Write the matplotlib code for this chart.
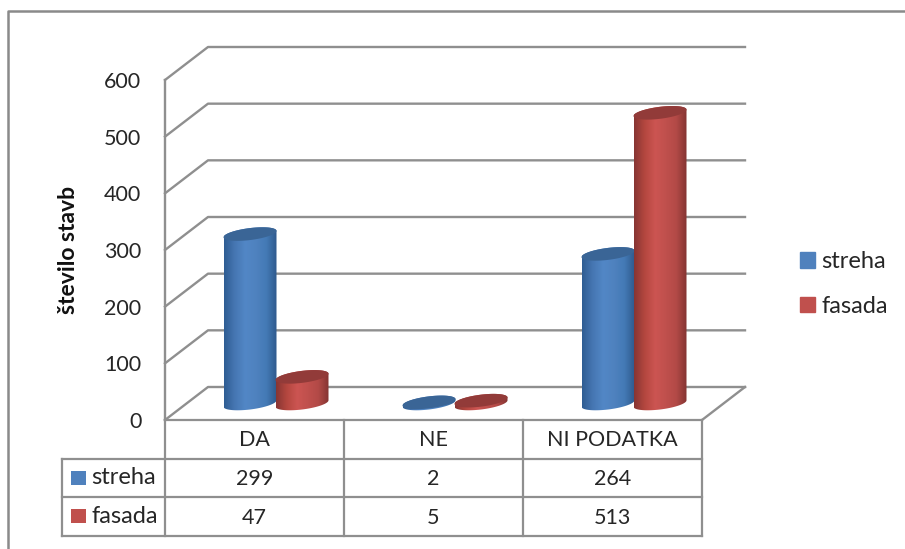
import numpy as np
import matplotlib
matplotlib.use('Agg')
import matplotlib.pyplot as plt
from matplotlib.colors import LinearSegmentedColormap
from matplotlib.patches import Patch, Polygon

# Data
categories = ['DA', 'NE', 'NI PODATKA']
streha = [299, 2, 264]
fasada = [47, 5, 513]
y_ticks = [0, 100, 200, 300, 400, 500, 600]

plt.rcParams['font.family'] = ['Lato', 'DejaVu Sans']

W, H = 905, 549
text_color = '#262626'
grid_color = '#8f8f8f'
font_size = 15.5
name_size = 17

# front plane of the fake 3D box, in pixels
left_px, right_px, zero_px, top_px = 165, 702, 420, 80
depth_x, depth_y = 43, 33

fig = plt.figure(figsize=(W / 100, H / 100), dpi=100)
ax = fig.add_axes([left_px / W, 1 - zero_px / H, (right_px - left_px) / W, (zero_px - top_px) / H])
ax.patch.set_visible(False)
for side in ax.spines.values():
    side.set_visible(False)

px_per_cat = (right_px - left_px) / len(categories)
px_per_val = (zero_px - top_px) / y_ticks[-1]


def dx(px):
    return px / px_per_cat


def dy(px):
    return px / px_per_val


def line(x, y, lw=2.0, color=grid_color, z=1):
    ax.plot(x, y, color=color, lw=lw, clip_on=False, zorder=z, solid_capstyle='projecting')


# walls and floor
for v in y_ticks:
    line([0, dx(depth_x), 3 + dx(depth_x)], [v, v + dy(depth_y), v + dy(depth_y)], lw=1.7)
line([0, 0], [0, y_ticks[-1]], lw=1.7)
line([3, 3 + dx(depth_x)], [0, dy(depth_y)], lw=1.7)

# cylinders
blue_map = LinearSegmentedColormap.from_list('b', ['#2f5d93', '#4676b2', '#5287c6', '#4f82bf', '#447ab6', '#2f5a8d'])
red_map = LinearSegmentedColormap.from_list('r', ['#873533', '#b4473f', '#cc5552', '#c0504d', '#b34a47', '#843432'])
gradient = np.linspace(0, 1, 128).reshape(1, -1)
radius = 26.5
minor = 6.0
tilt = 0.12
base_shift_y = 16.5
centre_shift = 21.5
offset = 26


def ellipse_xy(cx, cy, t):
    # cx in category units, cy in value units
    x = cx + dx(radius) * np.cos(t)
    y = cy + dy(minor) * np.sin(t) + dy(tilt * radius) * np.cos(t)
    return np.column_stack([x, y])


def cylinder(cx, value, cmap, top_color, z):
    base = dy(base_shift_y)
    low = ellipse_xy(cx, base, np.linspace(np.pi, 2 * np.pi, 50))
    high = ellipse_xy(cx, base + value, np.linspace(0, np.pi, 50))
    body = Polygon(np.vstack([low, high]), closed=True, fc='none', ec='none', transform=ax.transData)
    ax.add_patch(body)
    img = ax.imshow(gradient, cmap=cmap, aspect='auto', interpolation='bilinear', zorder=z,
                    extent=[cx - dx(radius), cx + dx(radius), base - dy(12), base + value + dy(12)])
    img.set_clip_path(body)
    top = ellipse_xy(cx, base + value, np.linspace(0, 2 * np.pi, 100))
    ax.add_patch(Polygon(top, closed=True, fc=top_color, ec='none', zorder=z + 0.1, clip_on=False))


for i in range(len(categories)):
    centre = i + 0.5 + dx(centre_shift)
    cylinder(centre - dx(offset), streha[i], blue_map, '#3a6596', 3 + i)
    cylinder(centre + dx(offset), fasada[i], red_map, '#923b39', 3.5 + i)

# data table under the plot
row_px = [zero_px, 458.5, 497, 535.5]


def row_y(px):
    return -dy(px - zero_px)


table_left = -dx(left_px - 62)
for p in row_px[1:]:
    line([table_left, 3], [row_y(p), row_y(p)], lw=1.6)
line([0, 3], [row_y(zero_px), row_y(zero_px)], lw=1.6)
line([table_left, table_left], [row_y(row_px[1]), row_y(row_px[3])], lw=1.6)
for i in range(len(categories) + 1):
    line([i, i], [row_y(row_px[0]), row_y(row_px[3])], lw=1.6)

for i, name in enumerate(categories):
    ax.text(i + 0.5, row_y(446.5), name, ha='center', va='baseline', fontsize=font_size, color=text_color)
    ax.text(i + 0.5, row_y(485), str(streha[i]), ha='center', va='baseline', fontsize=font_size, color=text_color)
    ax.text(i + 0.5, row_y(524), str(fasada[i]), ha='center', va='baseline', fontsize=font_size, color=text_color)

for name, color, p in [('streha', '#4f81bd', 477.5), ('fasada', '#c0504d', 516)]:
    ax.add_patch(Polygon([[-dx(94), row_y(p - 7)], [-dx(79), row_y(p - 7)], [-dx(79), row_y(p + 7)], [-dx(94), row_y(p + 7)]],
                         closed=True, fc=color, ec='none', clip_on=False))
    ax.text(-dx(74), row_y(p + 7), name, ha='left', va='baseline', fontsize=name_size, color=text_color)

ax.set_xlim(0, 3)
ax.set_ylim(0, y_ticks[-1])
ax.set_xticks([])
ax.set_yticks(y_ticks)
ax.tick_params(axis='y', length=0, pad=17, labelsize=font_size, labelcolor=text_color)
ax.set_ylabel('število stavb', fontsize=16.5, fontweight='bold', color='#111111', labelpad=18)

legend = ax.legend(handles=[Patch(color='#4f81bd', label='streha'), Patch(color='#c0504d', label='fasada')],
                   loc='center left', bbox_to_anchor=((800 - left_px) / (right_px - left_px), (zero_px - 284) / (zero_px - top_px)),
                   frameon=False, fontsize=name_size, labelcolor=text_color, handlelength=0.64, handleheight=0.64,
                   handletextpad=0.27, labelspacing=1.0, borderaxespad=0, borderpad=0)

# outer chart frame
fig.add_artist(plt.Line2D([8 / W, 8 / W, 1], [0, 1 - 11 / H, 1 - 11 / H], color='#8a8a8a', lw=1.8))

fig.savefig('out.png', dpi=100)
